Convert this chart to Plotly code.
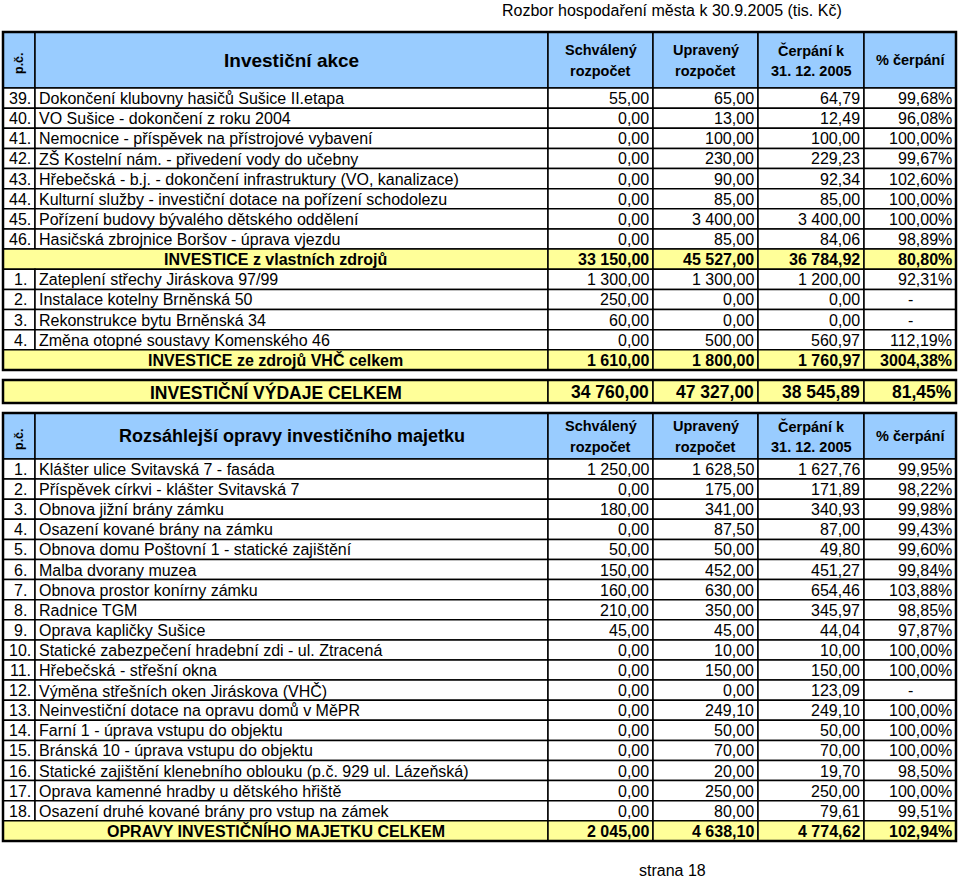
import plotly.graph_objects as go

# ---------------- data ----------------
title_text = "Rozbor hospodaření města k 30.9.2005 (tis. Kč)"
footer_text = "strana 18"
pc_label = "p.č."
col_headers = [["Schválený", "rozpočet"], ["Upravený", "rozpočet"],
               ["Čerpání k", "31. 12. 2005"], ["% čerpání"]]

t1_title = "Investiční akce"
t1_nums = ["39.", "40.", "41.", "42.", "43.", "44.", "45.", "46."]
t1_names = [
    "Dokončení klubovny hasičů Sušice II.etapa",
    "VO Sušice - dokončení z roku 2004",
    "Nemocnice - příspěvek na přístrojové vybavení",
    "ZŠ Kostelní nám. - přivedení vody do učebny",
    "Hřebečská - b.j. - dokončení infrastruktury (VO, kanalizace)",
    "Kulturní služby - investiční dotace na pořízení schodolezu",
    "Pořízení budovy bývalého dětského oddělení",
    "Hasičská zbrojnice Boršov - úprava vjezdu",
]
t1_schval = [55.00, 0.00, 0.00, 0.00, 0.00, 0.00, 0.00, 0.00]
t1_uprav = [65.00, 13.00, 100.00, 230.00, 90.00, 85.00, 3400.00, 85.00]
t1_cerp = [64.79, 12.49, 100.00, 229.23, 92.34, 85.00, 3400.00, 84.06]
t1_pct = [99.68, 96.08, 100.00, 99.67, 102.60, 100.00, 100.00, 98.89]

own_label = "INVESTICE z vlastních zdrojů"
own_vals = [33150.00, 45527.00, 36784.92, 80.80]

vhc_nums = ["1.", "2.", "3.", "4."]
vhc_names = [
    "Zateplení střechy Jiráskova 97/99",
    "Instalace kotelny Brněnská 50",
    "Rekonstrukce bytu Brněnská 34",
    "Změna otopné soustavy Komenského 46",
]
vhc_schval = [1300.00, 250.00, 60.00, 0.00]
vhc_uprav = [1300.00, 0.00, 0.00, 500.00]
vhc_cerp = [1200.00, 0.00, 0.00, 560.97]
vhc_pct = [92.31, None, None, 112.19]

vhc_label = "INVESTICE ze zdrojů VHČ celkem"
vhc_vals = [1610.00, 1800.00, 1760.97, 3004.38]

grand_label = "INVESTIČNÍ VÝDAJE CELKEM"
grand_vals = [34760.00, 47327.00, 38545.89, 81.45]

t2_title = "Rozsáhlejší opravy investičního majetku"
t2_nums = ["1.", "2.", "3.", "4.", "5.", "6.", "7.", "8.", "9.", "10.",
           "11.", "12.", "13.", "14.", "15.", "16.", "17.", "18."]
t2_names = [
    "Klášter ulice Svitavská 7 - fasáda",
    "Příspěvek církvi - klášter Svitavská 7",
    "Obnova jižní brány zámku",
    "Osazení kované brány na zámku",
    "Obnova domu Poštovní 1 - statické zajištění",
    "Malba dvorany muzea",
    "Obnova prostor konírny zámku",
    "Radnice TGM",
    "Oprava kapličky Sušice",
    "Statické zabezpečení hradební zdi - ul. Ztracená",
    "Hřebečská - střešní okna",
    "Výměna střešních oken Jiráskova (VHČ)",
    "Neinvestiční dotace na opravu domů v MěPR",
    "Farní 1 - úprava vstupu do objektu",
    "Bránská 10 - úprava vstupu do objektu",
    "Statické zajištění klenebního oblouku (p.č. 929 ul. Lázeňská)",
    "Oprava kamenné hradby u dětského hřiště",
    "Osazení druhé kované brány pro vstup na zámek",
]
t2_schval = [1250.00, 0.00, 180.00, 0.00, 50.00, 150.00, 160.00, 210.00, 45.00,
             0.00, 0.00, 0.00, 0.00, 0.00, 0.00, 0.00, 0.00, 0.00]
t2_uprav = [1628.50, 175.00, 341.00, 87.50, 50.00, 452.00, 630.00, 350.00, 45.00,
            10.00, 150.00, 0.00, 249.10, 50.00, 70.00, 20.00, 250.00, 80.00]
t2_cerp = [1627.76, 171.89, 340.93, 87.00, 49.80, 451.27, 654.46, 345.97, 44.04,
           10.00, 150.00, 123.09, 249.10, 50.00, 70.00, 19.70, 250.00, 79.61]
t2_pct = [99.95, 98.22, 99.98, 99.43, 99.60, 99.84, 103.88, 98.85, 97.87,
          100.00, 100.00, None, 100.00, 100.00, 100.00, 98.50, 100.00, 99.51]

t2_total_label = "OPRAVY INVESTIČNÍHO MAJETKU CELKEM"
t2_total_vals = [2045.00, 4638.10, 4774.62, 102.94]

# ---------------- styling / layout ----------------
FONT = "Liberation Sans, Arial, Helvetica, sans-serif"
BLUE = "#99CCFF"
YELLOW = "#FFFF99"
X_EDGES = [3, 35, 548, 653, 758, 864, 956]

T1_TOP, T1_HEAD_BOT, T1_ROW_H = 32, 88, 20.14
GRAND_TOP, GRAND_BOT = 380, 403
T2_TOP, T2_HEAD_BOT, T2_ROW_H = 413, 459, 20.1


def fmt_num(v):
    return f"{v:,.2f}".replace(",", " ").replace(".", ",")


def fmt_pct(v):
    return "-" if v is None else f"{v:.2f}".replace(".", ",") + "%"


shapes = []
annotations = []


def rect(x0, x1, y0, y1, fill, lw=1.5):
    shapes.append(dict(type="rect", xref="x", yref="y", x0=x0, x1=x1, y0=y0, y1=y1,
                       fillcolor=fill, line=dict(color="black", width=lw), layer="below"))


def text(x, y, s, size=16, anchor="center", bold=False, angle=0):
    annotations.append(dict(xref="x", yref="y", x=x, y=y, text=f"<b>{s}</b>" if bold else s,
                            showarrow=False, xanchor=anchor, yanchor="middle",
                            textangle=angle, font=dict(family=FONT, size=size, color="black")))


def header(top, bot, title, title_size):
    mid = (top + bot) / 2
    for i in range(6):
        rect(X_EDGES[i], X_EDGES[i + 1], top, bot, BLUE)
    text((X_EDGES[0] + X_EDGES[1]) / 2, mid + 3, pc_label, size=12.5, bold=True, angle=-90)
    text((X_EDGES[1] + X_EDGES[2]) / 2, mid, title, size=title_size, bold=True)
    for j, lines in enumerate(col_headers):
        cx = (X_EDGES[j + 2] + X_EDGES[j + 3]) / 2
        if len(lines) == 2:
            text(cx, mid - 10, lines[0], size=14.5, bold=True)
            text(cx, mid + 11, lines[1], size=14.5, bold=True)
        else:
            text(cx, mid, lines[0], size=14.5, bold=True)


def values_row(y0, y1, vals, pct, fill, bold=False, size=16):
    mid = (y0 + y1) / 2 + 0.5
    for j, v in enumerate(vals):
        rect(X_EDGES[j + 2], X_EDGES[j + 3], y0, y1, fill)
        text(X_EDGES[j + 3] - 2, mid, fmt_num(v), size=size, anchor="right", bold=bold)
    rect(X_EDGES[5], X_EDGES[6], y0, y1, fill)
    if pct is None:
        text((X_EDGES[5] + X_EDGES[6]) / 2, mid, "-", size=size, bold=bold)
    else:
        text(X_EDGES[6] - 2, mid, fmt_pct(pct), size=size, anchor="right", bold=bold)


def item_row(y0, y1, num, name, vals, pct):
    mid = (y0 + y1) / 2 + 0.5
    rect(X_EDGES[0], X_EDGES[1], y0, y1, "white")
    rect(X_EDGES[1], X_EDGES[2], y0, y1, "white")
    text((X_EDGES[0] + X_EDGES[1]) / 2 + 1, mid, num)
    text(X_EDGES[1] + 2, mid, name, anchor="left")
    values_row(y0, y1, vals, pct, "white")


def sum_row(y0, y1, label, vals, size=16):
    mid = (y0 + y1) / 2 + 0.5
    rect(X_EDGES[0], X_EDGES[2], y0, y1, YELLOW)
    text((X_EDGES[0] + X_EDGES[2]) / 2, mid, label, size=size, bold=True)
    values_row(y0, y1, vals[:3], vals[3], YELLOW, bold=True, size=size)


# ---- table 1 ----
header(T1_TOP, T1_HEAD_BOT, t1_title, 19)
r = 0
for i in range(len(t1_nums)):
    y0 = T1_HEAD_BOT + r * T1_ROW_H
    item_row(y0, y0 + T1_ROW_H, t1_nums[i], t1_names[i],
             [t1_schval[i], t1_uprav[i], t1_cerp[i]], t1_pct[i])
    r += 1
y0 = T1_HEAD_BOT + r * T1_ROW_H
sum_row(y0, y0 + T1_ROW_H, own_label, own_vals)
r += 1
for i in range(len(vhc_nums)):
    y0 = T1_HEAD_BOT + r * T1_ROW_H
    item_row(y0, y0 + T1_ROW_H, vhc_nums[i], vhc_names[i],
             [vhc_schval[i], vhc_uprav[i], vhc_cerp[i]], vhc_pct[i])
    r += 1
y0 = T1_HEAD_BOT + r * T1_ROW_H
sum_row(y0, y0 + T1_ROW_H, vhc_label, vhc_vals)
r += 1
T1_BOT = T1_HEAD_BOT + r * T1_ROW_H
shapes.append(dict(type="rect", xref="x", yref="y", x0=X_EDGES[0], x1=X_EDGES[-1],
                   y0=T1_TOP, y1=T1_BOT, line=dict(color="black", width=2.5)))

# ---- grand total ----
sum_row(GRAND_TOP, GRAND_BOT, grand_label, grand_vals, size=17.5)
shapes.append(dict(type="rect", xref="x", yref="y", x0=X_EDGES[0], x1=X_EDGES[-1],
                   y0=GRAND_TOP, y1=GRAND_BOT, line=dict(color="black", width=2.5)))

# ---- table 2 ----
header(T2_TOP, T2_HEAD_BOT, t2_title, 18)
for i in range(len(t2_nums)):
    y0 = T2_HEAD_BOT + i * T2_ROW_H
    item_row(y0, y0 + T2_ROW_H, t2_nums[i], t2_names[i],
             [t2_schval[i], t2_uprav[i], t2_cerp[i]], t2_pct[i])
y0 = T2_HEAD_BOT + len(t2_nums) * T2_ROW_H
sum_row(y0, y0 + T2_ROW_H, t2_total_label, t2_total_vals)
T2_BOT = y0 + T2_ROW_H
shapes.append(dict(type="rect", xref="x", yref="y", x0=X_EDGES[0], x1=X_EDGES[-1],
                   y0=T2_TOP, y1=T2_BOT, line=dict(color="black", width=2.5)))

# ---- title / footer ----
text(500, 10, title_text, anchor="left")
text(672, 870, footer_text)

fig = go.Figure(go.Scatter(x=[], y=[], showlegend=False))
fig.update_layout(
    width=960, height=881,
    margin=dict(l=0, r=0, t=0, b=0),
    paper_bgcolor="white", plot_bgcolor="white",
    xaxis=dict(range=[0, 960], visible=False, fixedrange=True),
    yaxis=dict(range=[881, 0], visible=False, fixedrange=True),
    shapes=shapes, annotations=annotations, showlegend=False,
)
fig.write_html(
    "out.html",
    post_script="document.body.style.margin='0';document.body.style.overflow='hidden';",
    config={"displayModeBar": False},
)
